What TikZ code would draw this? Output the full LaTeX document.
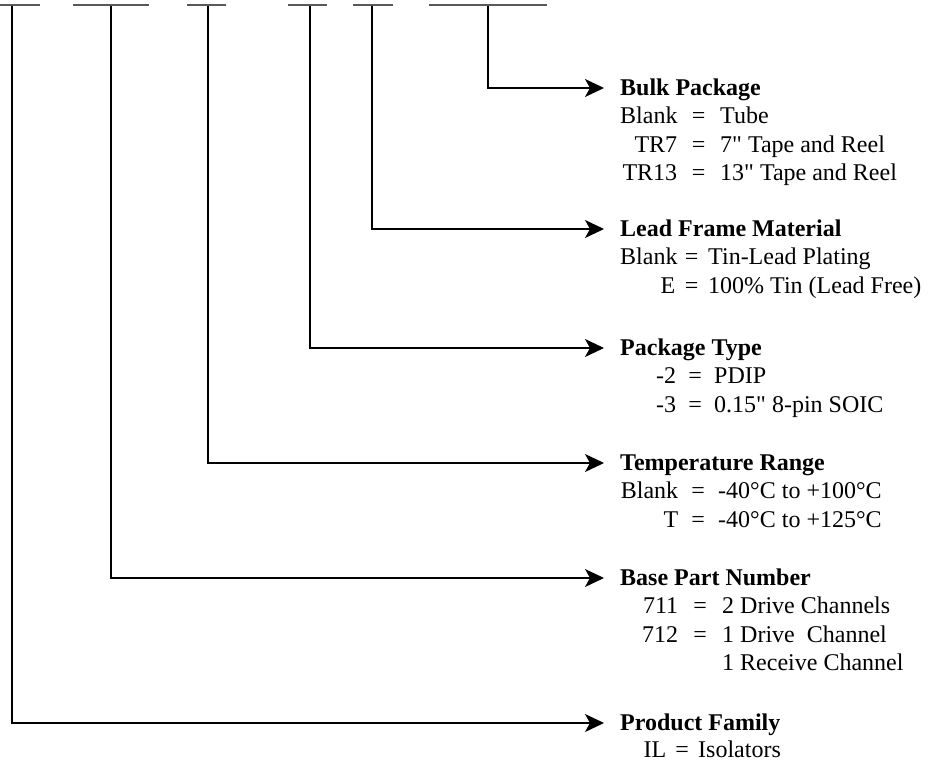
\documentclass[tikz,border=0pt]{standalone}
\usepackage{fontspec}
\setmainfont{Liberation Serif}[Ligatures=TeXOff]
\usepackage{array}
\usetikzlibrary{arrows.meta}
\newcolumntype{R}[1]{>{\raggedleft\arraybackslash}p{#1}}
\newenvironment{codes}[2]{\begin{tabular}[t]{@{}R{#1}@{\hspace{#2}}c@{\hspace{#2}}l@{}}}{\end{tabular}}

\begin{document}
\begin{tikzpicture}[x=1pt,y=-1pt,
      codebar/.style={draw=black!65,line width=2pt},
      hdr/.style={anchor=west,inner sep=0pt,text height=15pt,text depth=1pt,
        font=\fontsize{24}{28.6}\selectfont\bfseries},
      lst/.style={anchor=base west,inner sep=0pt,
        font=\fontsize{24}{28.6}\selectfont},
      pointer/.style={line width=1.2pt,shorten >=16pt,
        -{Stealth[length=19pt,width=18pt,inset=5pt]}}]
    \useasboundingbox (0,0) rectangle (935,763);

    % blanks of the part number
    \draw[codebar] (0,5) -- (40,5);
    \draw[codebar] (73,5) -- (149,5);
    \draw[codebar] (187,5) -- (226,5);
    \draw[codebar] (288,5) -- (327,5);
    \draw[codebar] (353,5) -- (393,5);
    \draw[codebar] (429,5) -- (547,5);
    \coordinate (c1) at (12,6);
    \coordinate (c2) at (111,6);
    \coordinate (c3) at (208,6);
    \coordinate (c4) at (310,6);
    \coordinate (c5) at (372,6);
    \coordinate (c6) at (488,6);

    % field names
    \node[hdr] (h6) at (620,88) {Bulk Package};
    \node[hdr] (h5) at (620,229) {Lead Frame Material};
    \node[hdr] (h4) at (620,348) {Package Type};
    \node[hdr] (h3) at (620,463) {Temperature Range};
    \node[hdr] (h2) at (620,578) {Base Part Number};
    \node[hdr] (h1) at (620,723) {Product Family};

    % codes
    \node[lst] (d6) at (620,123.6) {\begin{codes}{57pt}{14.75pt}
        Blank & = & Tube\\
        TR7 & = & 7" Tape and Reel\\
        TR13 & = & 13" Tape and Reel
      \end{codes}};
    \node[lst] (d5) at (620,264.6) {\begin{codes}{55pt}{9.75pt}
        Blank & = & Tin-Lead Plating\\
        E & = & 100\% Tin (Lead Free)
      \end{codes}};
    \node[lst] (d4) at (620,383.6) {\begin{codes}{56pt}{12.25pt}
        -2 & = & PDIP\\
        -3 & = & 0.15" 8-pin SOIC
      \end{codes}};
    \node[lst] (d3) at (620,498.6) {\begin{codes}{58pt}{13.25pt}
        Blank & = & -40°C to +100°C\\
        T & = & -40°C to +125°C
      \end{codes}};
    \node[lst] (d2) at (620,613.6) {\begin{codes}{58pt}{15.25pt}
        711 & = & 2 Drive Channels\\
        712 & = & 1 Drive~ Channel\\
        & & 1 Receive Channel
      \end{codes}};
    \node[lst] (d1) at (620,757.5) {\begin{codes}{46pt}{9.25pt}
        IL & = & Isolators
      \end{codes}};

    % leaders
    \draw[pointer] (c6) |- (h6.west);
    \draw[pointer] (c5) |- (h5.west);
    \draw[pointer] (c4) |- (h4.west);
    \draw[pointer] (c3) |- (h3.west);
    \draw[pointer] (c2) |- (h2.west);
    \draw[pointer] (c1) |- (h1.west);
  \end{tikzpicture}
\end{document}
